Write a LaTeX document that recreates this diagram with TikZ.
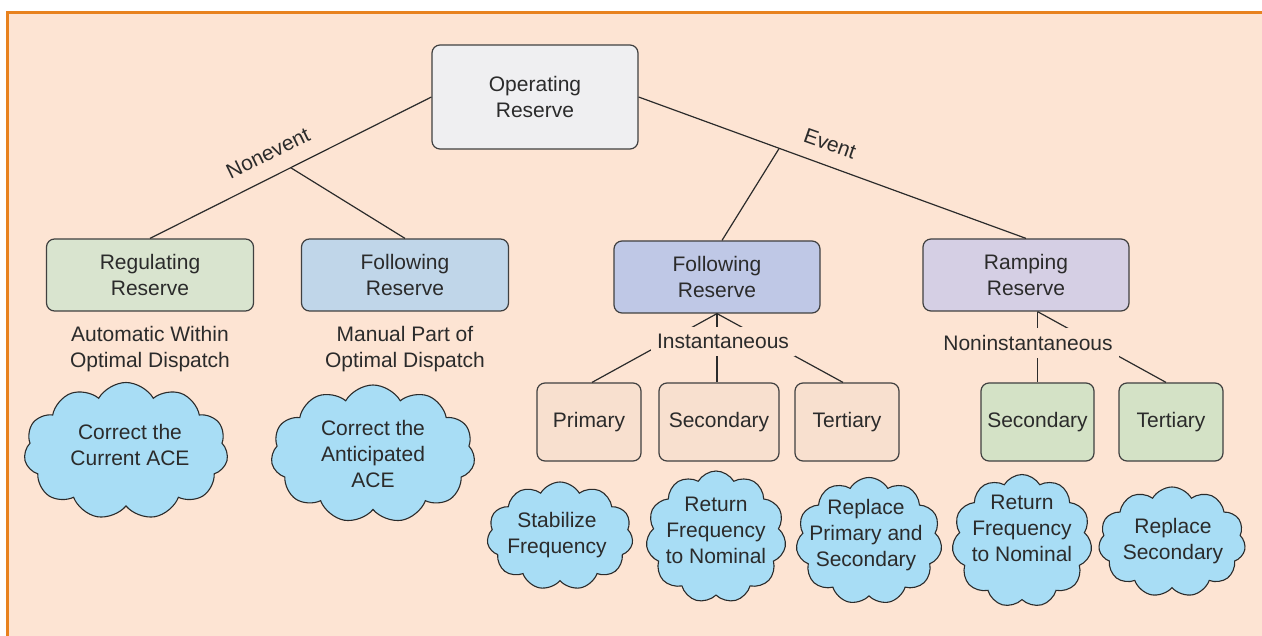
\documentclass[tikz,border=0pt]{standalone}
\usepackage{fontspec}
\setmainfont{Liberation Sans}
\usetikzlibrary{shapes.symbols,calc}
\definecolor{bgpeach}{HTML}{FDE4D3}
\definecolor{frameor}{HTML}{E8821E}
\definecolor{inkc}{HTML}{2B2B2B}
\definecolor{opfill}{HTML}{EFEFF1}
\definecolor{regfill}{HTML}{D9E4CF}
\definecolor{folAfill}{HTML}{C0D6E9}
\definecolor{folBfill}{HTML}{BFC8E6}
\definecolor{rampfill}{HTML}{D5CFE4}
\definecolor{peachbox}{HTML}{F8E0CF}
\definecolor{greenbox}{HTML}{D4E2C6}
\definecolor{cloudfill}{HTML}{A8DDF5}
\tikzset{
  txt/.style={font=\fontsize{21}{26}\selectfont, text=inkc, align=center},
  rbox/.style={txt, draw=inkc!90, line width=1.2pt, rounded corners=8pt, inner sep=0pt},
  cloudbox/.style={cloud, cloud puffs=11, cloud puff arc=120, cloud ignores aspect, draw=inkc, line width=1.1pt, fill=cloudfill, inner sep=0pt},
  conn/.style={draw=inkc, line width=1.2pt},
  mask/.style={txt, fill=bgpeach, inner xsep=6pt, inner ysep=7pt},
}
\begin{document}
\begin{tikzpicture}[x=1pt,y=-1pt]
\useasboundingbox (0,0) rectangle (1262,636);
\fill[bgpeach] (7,13) rectangle (1262,636);
\draw[frameor, line width=3pt] (7,636) -- (7,13) -- (1262,13);

% boxes
\node[rbox, fill=opfill, minimum width=206pt, minimum height=104pt] (op) at (535,97) {Operating\\Reserve};
\node[rbox, fill=regfill, minimum width=207pt, minimum height=72pt] (reg) at (150,275) {Regulating\\Reserve};
\node[rbox, fill=folAfill, minimum width=207pt, minimum height=72pt] (folA) at (405,275) {Following\\Reserve};
\node[rbox, fill=folBfill, minimum width=206pt, minimum height=72pt] (folB) at (717,277) {Following\\Reserve};
\node[rbox, fill=rampfill, minimum width=206pt, minimum height=72pt] (ramp) at (1026,275) {Ramping\\Reserve};

\node[rbox, fill=peachbox, minimum width=104pt, minimum height=78pt] (prim) at (589,422) {Primary};
\node[rbox, fill=peachbox, minimum width=120pt, minimum height=78pt] (secA) at (719,422) {Secondary};
\node[rbox, fill=peachbox, minimum width=104pt, minimum height=78pt] (terA) at (847,422) {Tertiary};
\node[rbox, fill=greenbox, minimum width=113pt, minimum height=78pt] (secB) at (1037.5,422) {Secondary};
\node[rbox, fill=greenbox, minimum width=104pt, minimum height=78pt] (terB) at (1171,422) {Tertiary};

% connectors
\coordinate (nb) at ($(op.west)!0.5!(reg.north)$);
\coordinate (eb) at ($(op.east)!0.363!(ramp.north)$);
\draw[conn] (op.west) -- (reg.north);
\draw[conn] (nb) -- (folA.north);
\draw[conn] (op.east) -- (ramp.north);
\draw[conn] (eb) -- ([xshift=5pt]folB.north);

\draw[conn] (folB.south) -- ([xshift=3pt]prim.north);
\draw[conn] (folB.south) -- (folB.south |- secA.north);
\draw[conn] (folB.south) -- ([xshift=-4pt]terA.north);
\coordinate (rs) at (secB.north |- ramp.south);
\draw[conn] (rs) -- (secB.north);
\draw[conn] (rs) -- ([xshift=-5pt]terB.north);

% labels
\node[txt, inner sep=0pt, rotate=26] (lnon) at (268,153) {Nonevent};
\node[txt, inner sep=0pt, rotate=-19.4] (lev) at (830,144) {Event};
\node[mask] (linst) at (723,341.5) {Instantaneous};
\node[mask] (lnoninst) at (1028,343) {Noninstantaneous};
\node[txt] (autw) at (150,349) {Automatic Within\\Optimal Dispatch};
\node[txt] (manp) at (405,349) {Manual Part of\\Optimal Dispatch};

% clouds
\node[cloudbox, minimum width=204pt, minimum height=137pt] (c1) at (126,451) {};
\node[txt] (t1) at (130,445) {Correct the\\Current ACE};
\node[cloudbox, minimum width=204pt, minimum height=138pt] (c2) at (373,454) {};
\node[txt] (t2) at (373,454) {Correct the\\Anticipated\\ACE};
\node[cloudbox, minimum width=146pt, minimum height=108pt] (c3) at (560,536) {};
\node[txt] (t3) at (557,535) {Stabilize\\Frequency};
\node[cloudbox, minimum width=140pt, minimum height=132pt] (c4) at (716,537) {};
\node[txt] (t4) at (716,530) {Return\\Frequency\\to Nominal};
\node[cloudbox, minimum width=146pt, minimum height=127pt] (c5) at (869,541) {};
\node[txt] (t5) at (866,535) {Replace\\Primary and\\Secondary};
\node[cloudbox, minimum width=140pt, minimum height=133pt] (c6) at (1022,541) {};
\node[txt] (t6) at (1022,528) {Return\\Frequency\\to Nominal};
\node[cloudbox, minimum width=147pt, minimum height=110pt] (c7) at (1172,542) {};
\node[txt] (t7) at (1173,541) {Replace\\Secondary};
\end{tikzpicture}
\end{document}
